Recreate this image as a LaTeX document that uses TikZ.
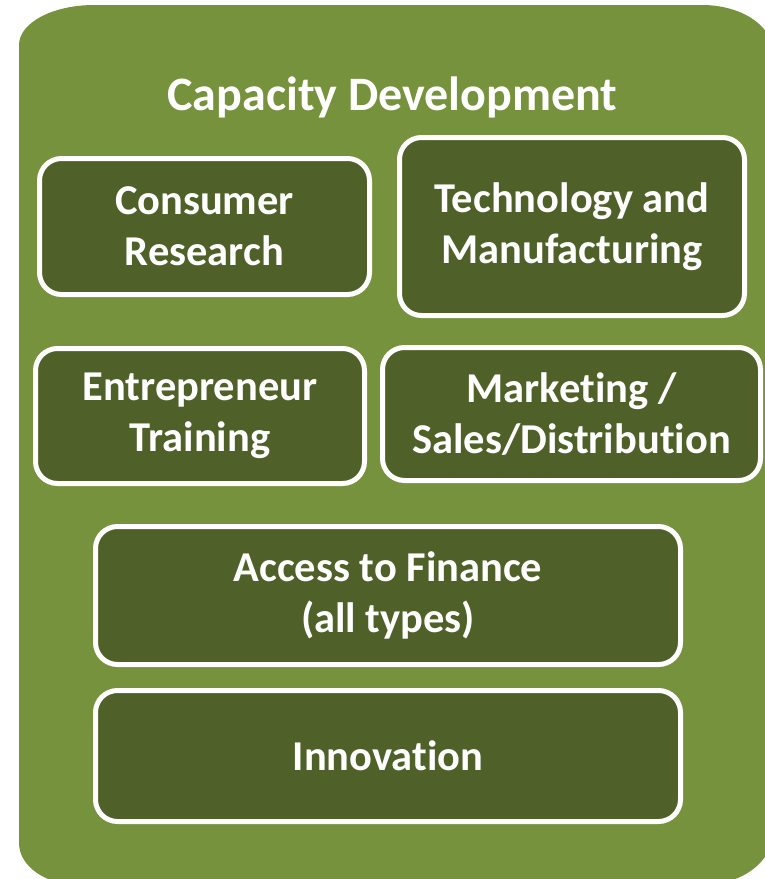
\documentclass[tikz,border=0pt]{standalone}
\usepackage{fontspec}
\setmainfont{Carlito}[RawFeature=-liga]
\usepackage{tikz}
\definecolor{outergreen}{HTML}{76923C}
\definecolor{innergreen}{HTML}{4F6128}

\begin{document}
\begin{tikzpicture}[x=1pt, y=-1pt, font=\bfseries\fontsize{42.5}{51}\selectfont,
	area/.style={draw=white, line width=5pt, fill=innergreen, rounded corners=22pt, text=white, align=center, inner sep=0pt}]
	\useasboundingbox (0,0) rectangle (765,879);
	\clip (0,0) rectangle (765,879);
	% outer panel
	\fill[outergreen] (19,843) -- (19,45) arc[start angle=180, end angle=270, x radius=75, y radius=40]
	  -- (702,5) arc[start angle=270, end angle=360, x radius=70, y radius=45]
	  -- (772,835) arc[start angle=0, end angle=90, x radius=70, y radius=50]
	  -- (79,885) arc[start angle=90, end angle=180, x radius=60, y radius=42] -- cycle;
	\node[text=white, font=\bfseries\fontsize{48}{56}\selectfont] (title) at (392.5,97) {Capacity Development};
	\node[area, minimum width=330, minimum height=136] (consumer) at (204.5,226.5) {Consumer\\Research};
	\node[area, minimum width=345, minimum height=178] (tech) at (572,226.5) {Technology and\\Manufacturing};
	\node[area, minimum width=329, minimum height=135] (entre) at (200,416) {Entrepreneur\\Training};
	\node[area, minimum width=378, minimum height=133] (market) at (571.5,414) {Marketing /\\Sales/Distribution};
	\node[area, minimum width=585, minimum height=138] (finance) at (388,595.5) {Access to Finance\\(all types)};
	\node[area, minimum width=585, minimum height=131] (innov) at (388,756) {Innovation};
\end{tikzpicture}
\end{document}
